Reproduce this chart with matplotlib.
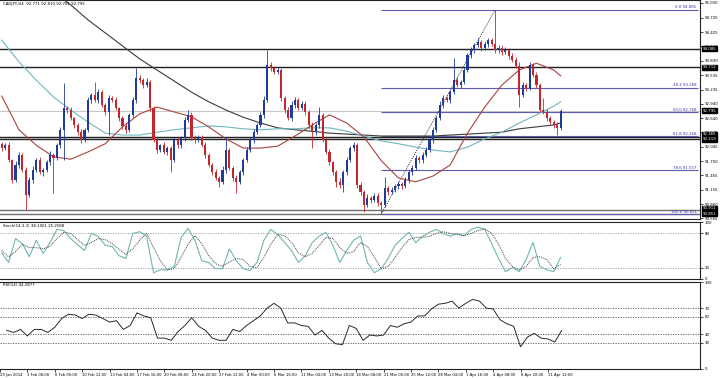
import numpy as np
import matplotlib
matplotlib.use("Agg")
import matplotlib.pyplot as plt
from matplotlib.transforms import blended_transform_factory

plt.rcParams['font.family'] = 'DejaVu Sans'
FS = 2.8

##################### Data ######################
title = "CADJPY,H4  92.771 92.810 92.761 92.795"

# H4 candles (one per two bars), close prices; open = previous close
first_open = 92.10
closes = [92.02, 92.08, 91.77, 91.36, 91.67, 91.88, 91.57, 91.05, 91.36, 91.57,
          91.77, 91.52, 91.57, 91.73, 91.88, 91.81, 92.08, 92.40, 92.85, 92.81,
          92.64, 92.50, 92.35, 92.19, 92.40, 93.02, 93.12, 93.02, 93.18, 92.91,
          92.77, 93.06, 93.02, 92.85, 92.64, 92.48, 92.40, 92.71, 93.02, 93.47,
          93.43, 93.33, 93.39, 92.85, 92.19, 91.98, 92.08, 91.94, 92.02, 91.77,
          92.19, 92.08, 92.23, 92.60, 92.71, 92.23, 92.19, 92.25, 92.08, 91.88,
          91.67, 91.52, 91.40, 91.32, 91.57, 91.98, 91.61, 91.40, 91.32, 91.52,
          91.77, 91.98, 92.19, 92.35, 92.50, 92.71, 93.02, 93.74, 93.68, 93.60,
          93.64, 93.06, 92.81, 92.64, 92.91, 93.02, 92.85, 92.94, 92.77, 92.50,
          92.35, 92.50, 92.71, 92.19, 91.94, 91.73, 91.52, 91.32, 91.25, 91.52,
          91.77, 92.02, 92.08, 91.25, 91.11, 90.84, 90.98, 90.94, 91.03, 90.88,
          90.84, 91.19, 91.11, 91.15, 91.23, 91.27, 91.23, 91.36, 91.52, 91.61,
          91.81, 91.77, 91.88, 91.98, 92.19, 92.40, 92.64, 92.91, 93.06, 93.02,
          93.18, 93.43, 93.33, 93.39, 93.64, 93.95, 94.05, 94.16, 94.22, 94.10,
          94.18, 94.26, 94.18, 94.05, 94.10, 94.01, 94.05, 93.93, 93.85, 93.72,
          93.12, 93.33, 93.27, 93.74, 93.54, 93.33, 92.81, 92.77, 92.64, 92.56,
          92.50, 92.44, 92.795]
# wick lengths in pips above / below the body
wick_up = [5, 4, 6, 3, 8, 5, 4, 6, 5, 7,
           4, 6, 3, 5, 7, 4, 5, 6, 52, 4,
           6, 3, 5, 7, 4, 6, 5, 27, 6, 4,
           5, 7, 4, 6, 3, 5, 6, 4, 7, 21,
           6, 5, 8, 4, 5, 6, 3, 7, 5, 4,
           6, 5, 4, 7, 9, 5, 6, 4, 5, 6,
           3, 5, 6, 4, 7, 27, 5, 4, 6, 5,
           4, 6, 5, 7, 4, 6, 8, 31, 6, 5,
           7, 5, 4, 6, 8, 5, 4, 6, 5, 3,
           6, 5, 16, 4, 5, 6, 3, 5, 7, 4,
           6, 5, 7, 4, 6, 5, 8, 4, 5, 6,
           4, 23, 5, 6, 4, 7, 5, 6, 4, 5,
           6, 4, 5, 7, 5, 6, 4, 8, 6, 5,
           4, 46, 6, 5, 7, 4, 6, 5, 8, 5,
           6, 4, 5, 70, 6, 5, 7, 4, 6, 5,
           8, 6, 5, 7, 5, 6, 4, 25, 6, 5,
           4, 6, 3]
wick_dn = [6, 5, 4, 7, 5, 6, 4, 31, 5, 6,
           5, 4, 7, 5, 6, 72, 4, 5, 63, 6,
           4, 6, 5, 6, 5, 4, 7, 5, 6, 4,
           6, 48, 5, 4, 6, 7, 7, 5, 4, 6,
           5, 6, 4, 7, 5, 6, 5, 4, 6, 25,
           4, 6, 5, 7, 4, 5, 6, 5, 4, 6,
           5, 6, 4, 11, 5, 7, 4, 6, 23, 5,
           6, 4, 5, 6, 4, 5, 7, 5, 6, 4,
           5, 6, 7, 4, 5, 6, 4, 5, 6, 7,
           33, 5, 6, 4, 5, 6, 5, 11, 6, 14,
           5, 4, 6, 5, 7, 14, 5, 6, 4, 6,
           19, 5, 6, 4, 5, 6, 5, 4, 6, 5,
           4, 6, 5, 5, 4, 6, 5, 4, 6, 5,
           6, 4, 5, 6, 4, 5, 6, 5, 4, 6,
           5, 6, 4, 5, 6, 5, 4, 6, 5, 4,
           25, 5, 6, 4, 5, 6, 5, 4, 6, 5,
           6, 15, 4]

# moving averages, read every 5 candles
ma_idx = list(range(0, 161, 5)) + [162]
ma_black = [96.13, 95.84, 95.55, 95.26, 94.99, 94.68, 94.41, 94.14, 93.87, 93.64,
            93.41, 93.18, 92.98, 92.81, 92.66, 92.54, 92.44, 92.40, 92.37, 92.33,
            92.31, 92.29, 92.27, 92.27, 92.27, 92.27, 92.29, 92.31, 92.33, 92.35,
            92.42, 92.46, 92.50, 92.54]
ma_teal = [94.26, 93.81, 93.43, 93.08, 92.81, 92.56, 92.33, 92.29, 92.29, 92.35,
           92.40, 92.44, 92.48, 92.46, 92.42, 92.40, 92.42, 92.42, 92.44, 92.44,
           92.37, 92.27, 92.17, 92.11, 92.04, 91.98, 91.94, 92.04, 92.21, 92.35,
           92.54, 92.71, 92.89, 92.98]
ma_red = [93.10, 92.40, 92.08, 91.84, 91.79, 91.94, 92.11, 92.46, 92.73, 92.87,
          92.77, 92.67, 92.46, 92.21, 92.02, 92.02, 92.06, 92.27, 92.50, 92.71,
          92.54, 92.25, 91.76, 91.40, 91.32, 91.44, 91.67, 92.33, 92.87, 93.33,
          93.64, 93.78, 93.64, 93.52]

# fibonacci retracement (from swing low candle to swing high candle)
fib_pct = ["0.0", "38.2", "50.0", "61.8", "78.6", "100.0"]
fib_lvl = [94.885, 93.268, 92.768, 92.268, 91.557, 90.651]
fib_from, fib_to = 110, 143

hlines_black = [94.08, 93.70, 92.26, 92.21]
hlines_gray = [90.73, 90.65]
bid = 92.795
boxes = [(94.08, "94.085"), (93.70, "93.712"), (92.795, "92.795"),
         (92.31, "92.365"), (92.20, "92.219"), (90.77, "90.911"), (90.66, "90.851")]
price_ticks = [95.030, 94.725, 94.425, 94.130, 93.830, 93.535, 93.235, 92.940,
               92.640, 92.345, 92.045, 91.750, 91.455, 91.155, 90.860, 90.565]

# oscillators, read every 2 candles
osc_idx = list(range(0, 163, 2))
stoch_k = [46, 29, 71, 62, 39, 68, 45, 64, 87, 85, 71, 60, 50, 80, 75, 59, 57, 41, 36, 80,
           83, 75, 11, 16, 16, 22, 73, 89, 68, 32, 29, 18, 18, 53, 32, 18, 15, 29, 68, 87,
           78, 64, 50, 29, 41, 64, 75, 82, 59, 29, 50, 68, 76, 29, 11, 18, 36, 59, 71, 82,
           64, 75, 82, 87, 80, 75, 80, 76, 87, 91, 87, 62, 36, 13, 20, 13, 34, 64, 22, 16,
           13, 38.1]
stoch_d = [50, 39, 48, 61, 55, 55, 53, 57, 71, 82, 80, 69, 59, 64, 71, 69, 62, 52, 43, 53,
           68, 80, 55, 32, 16, 18, 38, 61, 76, 62, 41, 27, 22, 30, 36, 34, 22, 20, 38, 61,
           78, 76, 64, 46, 39, 45, 59, 73, 71, 55, 45, 48, 64, 57, 38, 18, 22, 38, 55, 69,
           73, 73, 75, 80, 83, 80, 78, 76, 80, 85, 88, 80, 61, 36, 22, 16, 22, 38, 39, 34,
           18, 25.3]
rsi = [44.4, 42, 45.5, 38, 45.5, 45.5, 42, 48, 58, 63,
       62, 58, 63, 62, 58, 54, 55.5, 45.5, 50, 64.5,
       61, 59, 35.5, 35.5, 33, 43, 50, 59, 49, 44.4,
       35.5, 33, 33, 45.5, 43, 50, 55.5, 61, 70, 75.5,
       70, 53, 53, 50, 49, 39, 44.4, 35.5, 29, 28,
       50, 46.7, 33, 39, 38, 39, 50, 48, 52, 54,
       61, 61, 69, 74.5, 75.5, 78, 70, 75.5, 80, 78,
       70, 69, 56.7, 52, 49, 25.5, 36.7, 41, 35.5, 34.5,
       31, 44.29]

date_labels = ["29 Jan 2014", "3 Feb 08:00", "6 Feb 00:00", "10 Feb 12:00", "13 Feb 04:00",
               "17 Feb 16:00", "20 Feb 08:00", "24 Feb 20:00", "27 Feb 12:00", "4 Mar 00:00",
               "6 Mar 16:00", "11 Mar 04:00", "13 Mar 20:00", "18 Mar 08:00", "21 Mar 00:00",
               "25 Mar 12:00", "28 Mar 04:00", "1 Apr 16:00", "4 Apr 08:00", "8 Apr 20:00",
               "11 Apr 12:00"]

##################### Candles ###################
c = np.array(closes)
o = np.r_[first_open, c[:-1]]
h = np.maximum(o, c) + np.array(wick_up) / 100.0
l = np.minimum(o, c) - np.array(wick_dn) / 100.0
idx = np.arange(len(c))
bull, bear = '#1f3c9c', '#c4262e'
col = np.where(c >= o, bull, bear)

##################### Plots #####################
fig = plt.figure(figsize=(7.2, 3.78), dpi=100)
W = 700 / 720.0
ax = fig.add_axes([0, 1 - 219 / 378., W, 219 / 378.])
ax_st = fig.add_axes([0, 1 - 279 / 378., W, 57 / 378.])
ax_r = fig.add_axes([0, 1 - 369 / 378., W, 87 / 378.])
XL = (-0.5, 202.4)

for a in (ax, ax_st, ax_r):
    a.set_xlim(*XL)
    for s in a.spines.values():
        s.set_color('#222222')
        s.set_linewidth(0.8)
    a.spines['left'].set_visible(False)
    a.yaxis.tick_right()
    a.tick_params(axis='y', labelsize=FS, length=2, width=0.5, pad=1.5)
    a.tick_params(axis='x', labelsize=FS, length=2, width=0.5, pad=1)
    a.set_xticks([])

# main price chart
ax.set_ylim(90.549, 95.092)
ax.set_yticks(price_ticks)
ax.set_yticklabels(["%.3f" % p for p in price_ticks])

for y in hlines_black:
    ax.axhline(y, color='#202020', lw=1.0, zorder=1)
for y in hlines_gray:
    ax.axhline(y, color='#707070', lw=1.0, zorder=1)
ax.axhline(bid, color='#c8c8c8', lw=0.8, zorder=1)

ax.hlines(fib_lvl, fib_from, XL[1] - 0.6, color='#5c5cb0', lw=0.8, zorder=2)
for pct, lv in zip(fib_pct, fib_lvl):
    ax.text(XL[1] - 1.0, lv + 0.01, "%s %.3f" % (pct, lv), ha='right', va='bottom',
            fontsize=FS, color='#3535b5')
ax.plot([fib_from, fib_to], [fib_lvl[-1], fib_lvl[0]], ls=(0, (1.2, 1.2)),
        color='#444444', lw=0.7, zorder=2)

ax.plot(ma_idx, ma_black, color='#3a3a3a', lw=0.8, zorder=3)
ax.plot(ma_idx, ma_teal, color='#6fb7c0', lw=0.8, zorder=3)
ax.plot(ma_idx, ma_red, color='#a8443f', lw=0.8, zorder=3)

ax.vlines(idx, l, h, colors=col, lw=0.6, zorder=4)
ax.bar(idx, np.maximum(np.abs(c - o), 0.012), bottom=np.minimum(o, c), width=0.62,
       color=col, lw=0, zorder=5)

ax.text(0.004, 0.993, title, transform=ax.transAxes, ha='left', va='top', fontsize=FS)

tr = blended_transform_factory(ax.transAxes, ax.transData)
for y, s in boxes:
    ax.text(1.004, y, s, transform=tr, ha='left', va='center', fontsize=FS, color='white',
            bbox=dict(boxstyle='square,pad=0.15', fc='black', ec='black'), clip_on=False,
            zorder=10)

# stochastic
ax_st.set_ylim(0, 100)
ax_st.set_yticks([100, 80, 20, 0])
ax_st.set_yticklabels(["100", "80", "20", "0"])
for y in (80, 20):
    ax_st.axhline(y, color='#9a9a9a', lw=0.6, ls=(0, (1.5, 1.5)))
ax_st.plot(osc_idx, stoch_k, color='#6fb7b0', lw=0.8)
ax_st.plot(osc_idx, stoch_d, color='#444444', lw=0.7, ls=(0, (1, 1)))
ax_st.text(0.004, 0.97, "Stoch(14,3,3) 38.1061 25.2588", transform=ax_st.transAxes,
           ha='left', va='top', fontsize=FS)

# RSI
ax_r.set_ylim(0, 100)
ax_r.set_yticks([100, 70, 60, 40, 30, 0])
ax_r.set_yticklabels(["100", "70", "60", "40", "30", "0"])
for y in (70, 60, 40, 30):
    ax_r.axhline(y, color='#555555', lw=0.6, ls=(0, (1.5, 1.5)))
ax_r.plot(osc_idx, rsi, color='#2a2a2a', lw=0.7)
ax_r.text(0.004, 0.985, "RSI(14) 44.2877", transform=ax_r.transAxes,
          ha='left', va='top', fontsize=FS)

date_pos = np.arange(len(date_labels)) * 8 - 2
ax_r.set_xticks(date_pos)
ax_r.set_xticklabels(date_labels, ha='left')
ax_r.tick_params(axis='x', labelsize=FS - 0.1)

fig.savefig("out.png", dpi=100, facecolor='white')
